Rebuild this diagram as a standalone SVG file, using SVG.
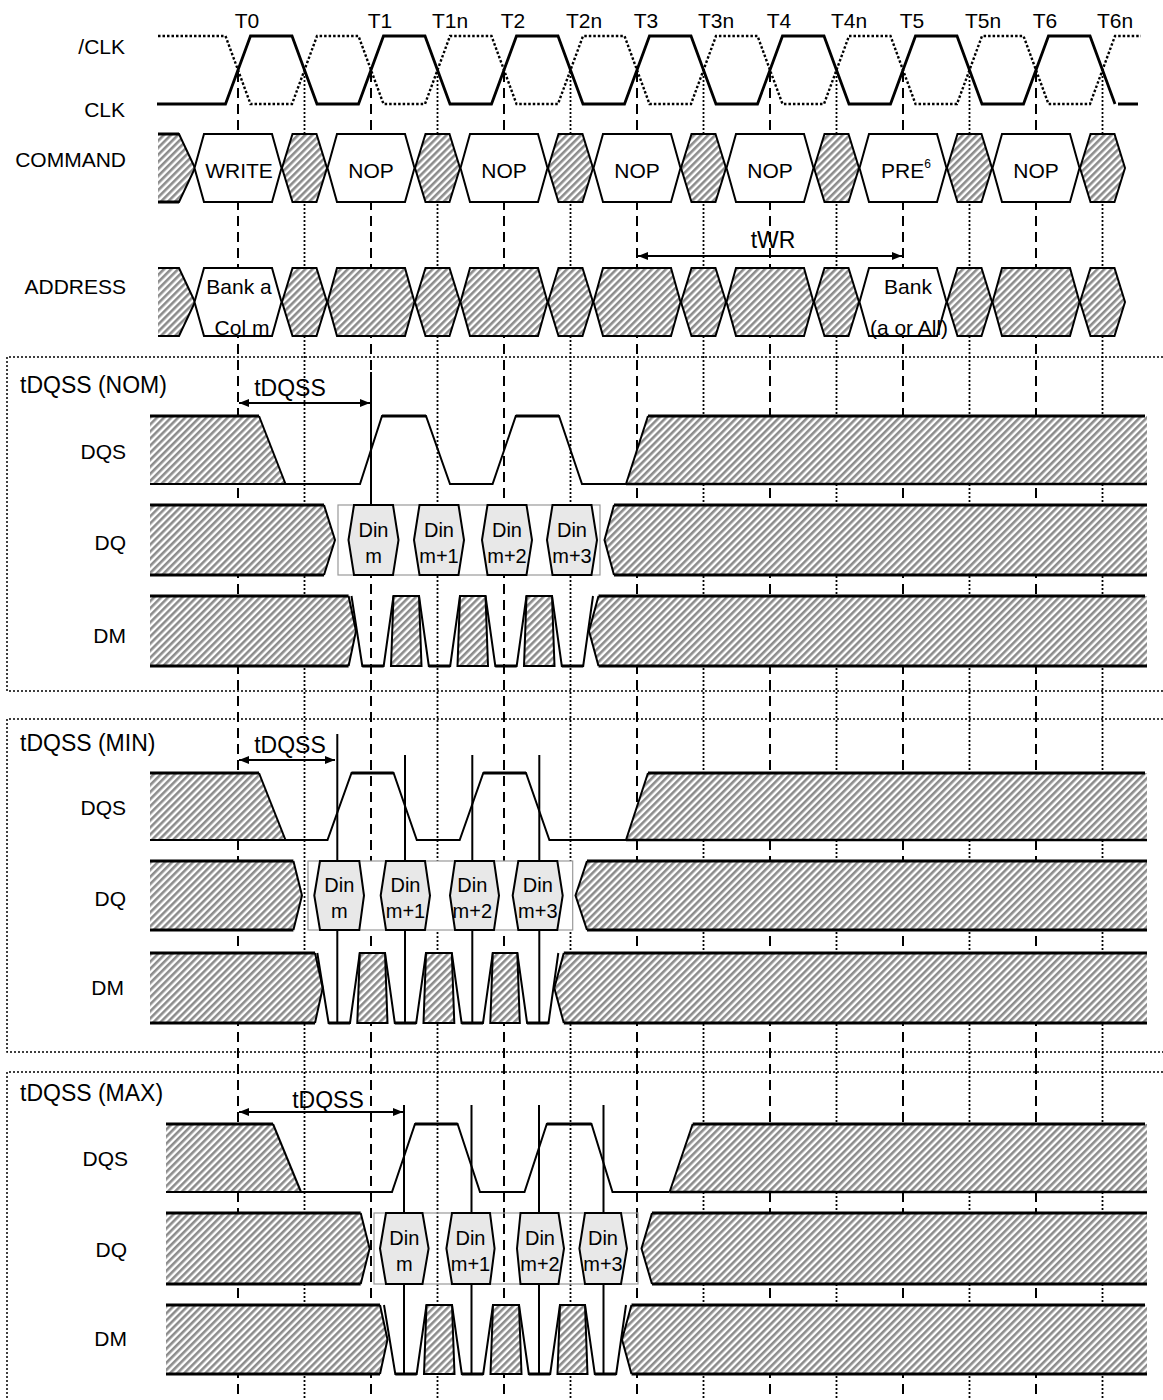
<svg xmlns="http://www.w3.org/2000/svg" width="1163" height="1400" viewBox="0 0 1163 1400">
<defs>
<pattern id="hatch" width="5" height="5" patternUnits="userSpaceOnUse" patternTransform="rotate(45)">
<rect width="5" height="5" fill="#ffffff"/>
<rect width="2.6" height="5" fill="#8c8c8c"/>
</pattern>
<marker id="arr" viewBox="0 0 10 10" refX="10" refY="5" markerWidth="10" markerHeight="10" markerUnits="userSpaceOnUse" orient="auto-start-reverse">
<path d="M0,1 L10,5 L0,9 Z" fill="#000"/>
</marker>
</defs>
<style>
text{font-family:"Liberation Sans",Arial,sans-serif;fill:#000;dominant-baseline:central}
.lbl{font-size:21px;text-anchor:end}
.t{font-size:21px;text-anchor:middle}
.c{font-size:21px;text-anchor:middle}
.din{font-size:20px;text-anchor:middle}
.big{font-size:23px}
.bigm{font-size:23px;text-anchor:middle}
.dash{stroke:#000;stroke-width:2;stroke-dasharray:10,6;fill:none}
.dot{stroke:#000;stroke-width:1.8;stroke-dasharray:2,2;fill:none}
.box{stroke:#000;stroke-width:1.5;stroke-dasharray:2,2;fill:none}
.valid{fill:#fff;stroke:#000;stroke-width:2}
.hx{fill:url(#hatch);stroke:#000;stroke-width:2}
.hf{fill:url(#hatch);stroke:none}
.w{fill:none;stroke:#000;stroke-width:2;stroke-linejoin:miter}
.hb{fill:none;stroke:#000;stroke-width:3}
.din-hex{fill:#e8e8e8;stroke:#000;stroke-width:2}
.wbox{fill:#fff;stroke:#999;stroke-width:1.2}
.wbox2{fill:none;stroke:#999;stroke-width:1.2}
.sl{stroke:#000;stroke-width:2}
.arrow{stroke:#000;stroke-width:2;fill:none;marker-start:url(#arr);marker-end:url(#arr)}
</style>

<g id="connectors">
<g id="guides">
<line class="dash" x1="238" y1="72" x2="238" y2="1400"/>
<line class="dash" x1="371" y1="72" x2="371" y2="1400"/>
<line class="dash" x1="504" y1="72" x2="504" y2="1400"/>
<line class="dash" x1="637" y1="72" x2="637" y2="1400"/>
<line class="dash" x1="770" y1="72" x2="770" y2="1400"/>
<line class="dash" x1="903" y1="72" x2="903" y2="1400"/>
<line class="dash" x1="1036" y1="72" x2="1036" y2="1400"/>
<line class="dot" x1="304.5" y1="72" x2="304.5" y2="1400"/>
<line class="dot" x1="437.5" y1="72" x2="437.5" y2="1400"/>
<line class="dot" x1="570.5" y1="72" x2="570.5" y2="1400"/>
<line class="dot" x1="703.5" y1="72" x2="703.5" y2="1400"/>
<line class="dot" x1="836.5" y1="72" x2="836.5" y2="1400"/>
<line class="dot" x1="969.5" y1="72" x2="969.5" y2="1400"/>
<line class="dot" x1="1102.5" y1="72" x2="1102.5" y2="1400"/>
</g>
</g>

<g id="box-nom"><path class="box" d="M1163,357 L7,357 L7,691 L1163,691"/></g>
<g id="box-min"><path class="box" d="M1163,719 L7,719 L7,1052 L1163,1052"/></g>
<g id="box-max"><path class="box" d="M1163,1072 L7,1072 L7,1400"/></g>

<g id="time-labels">
<text class="t" x="247" y="20">T0</text>
<text class="t" x="380" y="20">T1</text>
<text class="t" x="450" y="20">T1n</text>
<text class="t" x="513" y="20">T2</text>
<text class="t" x="584" y="20">T2n</text>
<text class="t" x="646" y="20">T3</text>
<text class="t" x="716" y="20">T3n</text>
<text class="t" x="779" y="20">T4</text>
<text class="t" x="849" y="20">T4n</text>
<text class="t" x="912" y="20">T5</text>
<text class="t" x="983" y="20">T5n</text>
<text class="t" x="1045" y="20">T6</text>
<text class="t" x="1115" y="20">T6n</text>
</g>

<g id="signal-labels">
<text class="lbl" x="125" y="46">/CLK</text>
<text class="lbl" x="125" y="109">CLK</text>
<text class="lbl" x="126" y="159">COMMAND</text>
<text class="lbl" x="126" y="286">ADDRESS</text>
<text class="lbl" x="126" y="451">DQS</text>
<text class="lbl" x="126" y="542">DQ</text>
<text class="lbl" x="126" y="635">DM</text>
<text class="lbl" x="126" y="807">DQS</text>
<text class="lbl" x="126" y="898">DQ</text>
<text class="lbl" x="124" y="987">DM</text>
<text class="lbl" x="128" y="1158">DQS</text>
<text class="lbl" x="127" y="1249">DQ</text>
<text class="lbl" x="127" y="1338">DM</text>
</g>

<g id="clk">
<path d="M157,104 L225.5,104 L250.5,36 L292,36 L317,104 L358.5,104 L383.5,36 L425,36 L450,104 L491.5,104 L516.5,36 L558,36 L583,104 L624.5,104 L649.5,36 L691,36 L716,104 L757.5,104 L782.5,36 L824,36 L849,104 L890.5,104 L915.5,36 L957,36 L982,104 L1023.5,104 L1048.5,36 L1090,36 L1115,104" fill="none" stroke="#000" stroke-width="2.8"/>
<line x1="1118" y1="104" x2="1138" y2="104" stroke="#000" stroke-width="3"/>
</g>
<g id="clk-n">
<path d="M158,36 L225.5,36 L250.5,104 L292,104 L317,36 L358.5,36 L383.5,104 L425,104 L450,36 L491.5,36 L516.5,104 L558,104 L583,36 L624.5,36 L649.5,104 L691,104 L716,36 L757.5,36 L782.5,104 L824,104 L849,36 L890.5,36 L915.5,104 L957,104 L982,36 L1023.5,36 L1048.5,104 L1090,104 L1115,36 L1141,36" fill="none" stroke="#000" stroke-width="2.4" stroke-dasharray="2.5,2"/>
</g>

<g id="command">
<polygon class="hf" points="158,134 179,134 195,168 179,202 158,202"/>
<polyline class="w" points="158,134 179,134 195,168 179,202 158,202"/>
<line x1="158" y1="134" x2="179" y2="134" stroke="#000" stroke-width="3"/>
<line x1="158" y1="202" x2="179" y2="202" stroke="#000" stroke-width="3"/>
<polygon class="valid" points="194.5,168 204,134 272,134 281.5,168 272,202 204,202"/>
<polygon class="hx" points="282,168 292.5,134 316.5,134 327,168 316.5,202 292.5,202"/>
<polygon class="valid" points="327.5,168 337,134 405,134 414.5,168 405,202 337,202"/>
<polygon class="hx" points="415,168 425.5,134 449.5,134 460,168 449.5,202 425.5,202"/>
<polygon class="valid" points="460.5,168 470,134 538,134 547.5,168 538,202 470,202"/>
<polygon class="hx" points="548,168 558.5,134 582.5,134 593,168 582.5,202 558.5,202"/>
<polygon class="valid" points="593.5,168 603,134 671,134 680.5,168 671,202 603,202"/>
<polygon class="hx" points="681,168 691.5,134 715.5,134 726,168 715.5,202 691.5,202"/>
<polygon class="valid" points="726.5,168 736,134 804,134 813.5,168 804,202 736,202"/>
<polygon class="hx" points="814,168 824.5,134 848.5,134 859,168 848.5,202 824.5,202"/>
<polygon class="valid" points="859.5,168 869,134 937,134 946.5,168 937,202 869,202"/>
<polygon class="hx" points="947,168 957.5,134 981.5,134 992,168 981.5,202 957.5,202"/>
<polygon class="valid" points="992.5,168 1002,134 1070,134 1079.5,168 1070,202 1002,202"/>
<polygon class="hx" points="1080,168 1090.5,134 1114.5,134 1125,168 1114.5,202 1090.5,202"/>
<text class="c" x="239" y="170">WRITE</text>
<text class="c" x="371" y="170">NOP</text>
<text class="c" x="504" y="170">NOP</text>
<text class="c" x="637" y="170">NOP</text>
<text class="c" x="770" y="170">NOP</text>
<text class="c" x="906" y="170">PRE<tspan font-size="12" dy="-6">6</tspan></text>
<text class="c" x="1036" y="170">NOP</text>
</g>

<g id="twr">
<line class="arrow" x1="638" y1="256" x2="902" y2="256"/>
<text class="bigm" x="773" y="240">tWR</text>
</g>

<g id="address">
<polygon class="hf" points="158,268 179,268 195,302 179,336 158,336"/>
<polyline class="w" points="158,268 179,268 195,302 179,336 158,336"/>
<polygon class="valid" points="194.5,302 204,268 272,268 281.5,302 272,336 204,336"/>
<polygon class="hx" points="282,302 292.5,268 316.5,268 327,302 316.5,336 292.5,336"/>
<polygon class="hx" points="327.5,302 337,268 405,268 414.5,302 405,336 337,336"/>
<polygon class="hx" points="415,302 425.5,268 449.5,268 460,302 449.5,336 425.5,336"/>
<polygon class="hx" points="460.5,302 470,268 538,268 547.5,302 538,336 470,336"/>
<polygon class="hx" points="548,302 558.5,268 582.5,268 593,302 582.5,336 558.5,336"/>
<polygon class="hx" points="593.5,302 603,268 671,268 680.5,302 671,336 603,336"/>
<polygon class="hx" points="681,302 691.5,268 715.5,268 726,302 715.5,336 691.5,336"/>
<polygon class="hx" points="726.5,302 736,268 804,268 813.5,302 804,336 736,336"/>
<polygon class="hx" points="814,302 824.5,268 848.5,268 859,302 848.5,336 824.5,336"/>
<polygon class="valid" points="859.5,302 869,268 937,268 946.5,302 937,336 869,336"/>
<polygon class="hx" points="947,302 957.5,268 981.5,268 992,302 981.5,336 957.5,336"/>
<polygon class="hx" points="992.5,302 1002,268 1070,268 1079.5,302 1070,336 1002,336"/>
<polygon class="hx" points="1080,302 1090.5,268 1114.5,268 1125,302 1114.5,336 1090.5,336"/>
<text class="c" x="239" y="286">Bank a</text>
<text class="c" x="242" y="327">Col m</text>
<text class="c" x="908" y="286">Bank</text>
<text class="c" x="909" y="327">(a or All)</text>
</g>

<!-- NOM -->
<g id="nom-title">
<text class="big" x="20" y="385">tDQSS (NOM)</text>
<text class="bigm" x="290" y="388">tDQSS</text>
<line class="arrow" x1="239" y1="403" x2="370" y2="403"/>
<line class="sl" x1="371" y1="372" x2="371" y2="505"/>
</g>
<g id="nom-dqs">
<polygon class="hf" points="150,416 259,416 285.5,484 150,484"/>
<line x1="150" y1="416" x2="259" y2="416" stroke="#000" stroke-width="3"/>
<path class="w" d="M259,416 L285.5,484"/>
<path class="w" d="M150,484 L360,484 L382,416 L426,416 L450,484 L492.6,484 L515.8,416 L559,416 L582,484 L626,484"/>
<path class="hb" d="M382,416 L426,416 M515.8,416 L559,416"/>
<polygon class="hf" points="626,484 648,416 1147,416 1147,484"/>
<path class="w" d="M626,484 L648,416"/>
<line x1="648" y1="416" x2="1145" y2="416" stroke="#000" stroke-width="3"/>
<line x1="626" y1="484" x2="1147" y2="484" stroke="#000" stroke-width="2.5"/>
</g>
<g id="nom-dq">
<polygon class="hf" points="150,505 324,505 335,540 324,575 150,575"/>
<path class="w" d="M324,505 L335,540 L324,575"/>
<line x1="150" y1="505" x2="324" y2="505" stroke="#000" stroke-width="3"/>
<line x1="150" y1="575" x2="324" y2="575" stroke="#000" stroke-width="3"/>
<rect class="wbox" x="338" y="505" width="262" height="70"/>
<polygon class="din-hex" points="348.5,540 354,505 393,505 398.5,540 393,575 354,575"/>
<polygon class="din-hex" points="414,540 419.5,505 458.5,505 464,540 458.5,575 419.5,575"/>
<polygon class="din-hex" points="482,540 487.5,505 526.5,505 532,540 526.5,575 487.5,575"/>
<polygon class="din-hex" points="547,540 552.5,505 591.5,505 597,540 591.5,575 552.5,575"/>
<text class="din" x="373.5" y="530">Din</text><text class="din" x="373.5" y="556">m</text>
<text class="din" x="439" y="530">Din</text><text class="din" x="439" y="556">m+1</text>
<text class="din" x="507" y="530">Din</text><text class="din" x="507" y="556">m+2</text>
<text class="din" x="572" y="530">Din</text><text class="din" x="572" y="556">m+3</text>
<polygon class="hf" points="604.5,540 614,505 1147,505 1147,575 614,575"/>
<path class="w" d="M614,505 L604.5,540 L614,575"/>
<line x1="614" y1="505" x2="1147" y2="505" stroke="#000" stroke-width="3"/>
<line x1="614" y1="575" x2="1147" y2="575" stroke="#000" stroke-width="3"/>
</g>
<g id="nom-dm">
<polygon class="hf" points="150,596 348.6,596 356,631 348.6,666 150,666"/>
<path class="w" d="M348.6,596 L356,631 L348.6,666"/>
<line x1="150" y1="596" x2="348.6" y2="596" stroke="#000" stroke-width="3"/>
<line x1="150" y1="666" x2="348.6" y2="666" stroke="#000" stroke-width="3"/>
<path class="w" d="M351.5,596 L362.3,666 L383.7,666 L393.5,596"/>
<path class="w" d="M419,596 L428.8,666 L450.2,666 L460,596"/>
<path class="w" d="M485.5,596 L495.3,666 L516.7,666 L526.5,596"/>
<path class="w" d="M552,596 L561.8,666 L583.2,666 L593,596"/>
<path class="hb" d="M362.3,666 L383.7,666 M428.8,666 L450.2,666 M495.3,666 L516.7,666 M561.8,666 L583.2,666"/>
<polygon class="hx" points="393.5,596 419,596 421.5,666 391,666"/>
<polygon class="hx" points="460,596 485.5,596 488,666 457.5,666"/>
<polygon class="hx" points="526.5,596 552,596 554.5,666 524,666"/>
<polygon class="hf" points="589,631 598.5,596 1147,596 1147,666 598.5,666"/>
<path class="w" d="M598.5,596 L589,631 L598.5,666"/>
<line x1="598.5" y1="596" x2="1145" y2="596" stroke="#000" stroke-width="3"/>
<line x1="598.5" y1="666" x2="1147" y2="666" stroke="#000" stroke-width="3"/>
</g>

<!-- MIN -->
<g id="min-title">
<text class="big" x="20" y="743">tDQSS (MIN)</text>
<text class="bigm" x="290" y="745">tDQSS</text>
<line class="arrow" x1="239" y1="760" x2="335" y2="760"/>
<line class="sl" x1="337.3" y1="734" x2="337.3" y2="1023"/>
<line class="sl" x1="405" y1="755" x2="405" y2="1023"/>
<line class="sl" x1="472.3" y1="755" x2="472.3" y2="1023"/>
<line class="sl" x1="539.3" y1="755" x2="539.3" y2="1023"/>
</g>
<g id="min-dqs">
<polygon class="hf" points="150,773 259,773 285.5,840 150,840"/>
<line x1="150" y1="773" x2="259" y2="773" stroke="#000" stroke-width="3"/>
<path class="w" d="M259,773 L285.5,840"/>
<path class="w" d="M150,840 L327.5,840 L351.5,773 L393.6,773 L416.8,840 L459.7,840 L483.3,773 L526,773 L549.4,840 L626,840"/>
<path class="hb" d="M351.5,773 L393.6,773 M483.3,773 L526,773"/>
<polygon class="hf" points="626,840 648,773 1147,773 1147,840"/>
<path class="w" d="M626,840 L648,773"/>
<line x1="648" y1="773" x2="1145" y2="773" stroke="#000" stroke-width="3"/>
<line x1="626" y1="840" x2="1147" y2="840" stroke="#000" stroke-width="2.5"/>
</g>
<g id="min-dq">
<polygon class="hf" points="150,861 293.4,861 302,895.5 293.4,930 150,930"/>
<path class="w" d="M293.4,861 L302,895.5 L293.4,930"/>
<line x1="150" y1="861" x2="293.4" y2="861" stroke="#000" stroke-width="3"/>
<line x1="150" y1="930" x2="293.4" y2="930" stroke="#000" stroke-width="3"/>
<rect class="wbox" x="308" y="861" width="264.7" height="69"/>
<line class="sl" x1="337.3" y1="861" x2="337.3" y2="930"/>
<line class="sl" x1="405" y1="861" x2="405" y2="930"/>
<line class="sl" x1="472.3" y1="861" x2="472.3" y2="930"/>
<line class="sl" x1="539.3" y1="861" x2="539.3" y2="930"/>
<polygon class="din-hex" points="314.3,895.5 320,861 359.3,861 364,895.5 359.3,930 320,930"/>
<polygon class="din-hex" points="380.7,895.5 386,861 425,861 430,895.5 425,930 386,930"/>
<polygon class="din-hex" points="450,895.5 455,861 494,861 499,895.5 494,930 455,930"/>
<polygon class="din-hex" points="512.7,895.5 518.3,861 557.3,861 562.7,895.5 557.3,930 518.3,930"/>
<text class="din" x="339.3" y="885">Din</text><text class="din" x="339.3" y="911">m</text>
<text class="din" x="405.5" y="885">Din</text><text class="din" x="405.5" y="911">m+1</text>
<text class="din" x="472.3" y="885">Din</text><text class="din" x="472.3" y="911">m+2</text>
<text class="din" x="537.8" y="885">Din</text><text class="din" x="537.8" y="911">m+3</text>
<polygon class="hf" points="575.5,895.5 587,861 1147,861 1147,930 587,930"/>
<path class="w" d="M587,861 L575.5,895.5 L587,930"/>
<line x1="587" y1="861" x2="1147" y2="861" stroke="#000" stroke-width="3"/>
<line x1="587" y1="930" x2="1147" y2="930" stroke="#000" stroke-width="3"/>
</g>
<g id="min-dm">
<polygon class="hf" points="150,953 315,953 322.7,988 315,1023 150,1023"/>
<path class="w" d="M315,953 L322.7,988 L315,1023"/>
<line x1="150" y1="953" x2="315" y2="953" stroke="#000" stroke-width="3"/>
<line x1="150" y1="1023" x2="315" y2="1023" stroke="#000" stroke-width="3"/>
<path class="w" d="M317.3,953 L328.6,1023 L350,1023 L359.8,953"/>
<path class="w" d="M385,953 L394.8,1023 L416.2,1023 L426,953"/>
<path class="w" d="M451.8,953 L461.6,1023 L483,1023 L492.8,953"/>
<path class="w" d="M517.3,953 L527.1,1023 L548.5,1023 L558.3,953"/>
<path class="hb" d="M328.6,1023 L350,1023 M394.8,1023 L416.2,1023 M461.6,1023 L483,1023 M527.1,1023 L548.5,1023"/>
<polygon class="hx" points="359.8,953 385,953 387.5,1023 357.3,1023"/>
<polygon class="hx" points="426,953 451.8,953 454.3,1023 423.5,1023"/>
<polygon class="hx" points="492.8,953 517.3,953 519.8,1023 490.3,1023"/>
<polygon class="hf" points="554.3,988 563.8,953 1147,953 1147,1023 563.8,1023"/>
<path class="w" d="M563.8,953 L554.3,988 L563.8,1023"/>
<line x1="563.8" y1="953" x2="1147" y2="953" stroke="#000" stroke-width="3"/>
<line x1="563.8" y1="1023" x2="1147" y2="1023" stroke="#000" stroke-width="3"/>
</g>

<!-- MAX -->
<g id="max-title">
<text class="big" x="20" y="1093">tDQSS (MAX)</text>
<text class="bigm" x="328" y="1100">tDQSS</text>
<line class="arrow" x1="239" y1="1112" x2="403" y2="1112"/>
<line class="sl" x1="404" y1="1105" x2="404" y2="1374"/>
<line class="sl" x1="471.5" y1="1105" x2="471.5" y2="1374"/>
<line class="sl" x1="539" y1="1105" x2="539" y2="1374"/>
<line class="sl" x1="603.5" y1="1105" x2="603.5" y2="1374"/>
</g>
<g id="max-dqs">
<polygon class="hf" points="166,1124 273,1124 301,1192 166,1192"/>
<line x1="166" y1="1124" x2="273" y2="1124" stroke="#000" stroke-width="3"/>
<path class="w" d="M273,1124 L301,1192"/>
<path class="w" d="M166,1192 L392,1192 L415,1124 L457.6,1124 L480,1192 L524.5,1192 L546.8,1124 L591.5,1124 L612.5,1192 L669.6,1192"/>
<path class="hb" d="M415,1124 L457.6,1124 M546.8,1124 L591.5,1124"/>
<polygon class="hf" points="669.6,1192 692.7,1124 1147,1124 1147,1192"/>
<path class="w" d="M669.6,1192 L692.7,1124"/>
<line x1="692.7" y1="1124" x2="1145" y2="1124" stroke="#000" stroke-width="3"/>
<line x1="669.6" y1="1192" x2="1147" y2="1192" stroke="#000" stroke-width="2.5"/>
</g>
<g id="max-dq">
<polygon class="hf" points="166,1213 360.7,1213 369.6,1248.5 360.7,1284 166,1284"/>
<path class="w" d="M360.7,1213 L369.6,1248.5 L360.7,1284"/>
<line x1="166" y1="1213" x2="360.7" y2="1213" stroke="#000" stroke-width="3"/>
<line x1="166" y1="1284" x2="360.7" y2="1284" stroke="#000" stroke-width="3"/>
<rect class="wbox2" x="374" y="1213" width="264" height="71"/>
<polygon class="din-hex" points="380,1248.5 386,1213 422.5,1213 428.6,1248.5 422.5,1284 386,1284"/>
<polygon class="din-hex" points="446.4,1248.5 452,1213 490,1213 494.6,1248.5 490,1284 452,1284"/>
<polygon class="din-hex" points="517,1248.5 520.5,1213 558.5,1213 564,1248.5 558.5,1284 520.5,1284"/>
<polygon class="din-hex" points="579.4,1248.5 585,1213 621,1213 627,1248.5 621,1284 585,1284"/>
<text class="din" x="404.3" y="1238">Din</text><text class="din" x="404.3" y="1264">m</text>
<text class="din" x="470.5" y="1238">Din</text><text class="din" x="470.5" y="1264">m+1</text>
<text class="din" x="540" y="1238">Din</text><text class="din" x="540" y="1264">m+2</text>
<text class="din" x="603" y="1238">Din</text><text class="din" x="603" y="1264">m+3</text>
<polygon class="hf" points="641.5,1248.5 652,1213 1147,1213 1147,1284 652,1284"/>
<path class="w" d="M652,1213 L641.5,1248.5 L652,1284"/>
<line x1="652" y1="1213" x2="1147" y2="1213" stroke="#000" stroke-width="3"/>
<line x1="652" y1="1284" x2="1147" y2="1284" stroke="#000" stroke-width="3"/>
</g>
<g id="max-dm">
<polygon class="hf" points="166,1305 380,1305 387.5,1339.5 380,1374 166,1374"/>
<path class="w" d="M380,1305 L387.5,1339.5 L380,1374"/>
<line x1="166" y1="1305" x2="380" y2="1305" stroke="#000" stroke-width="3"/>
<line x1="166" y1="1374" x2="380" y2="1374" stroke="#000" stroke-width="3"/>
<path class="w" d="M384,1305 L395.3,1374 L416.7,1374 L426.5,1305"/>
<path class="w" d="M452,1305 L461.8,1374 L483.2,1374 L493,1305"/>
<path class="w" d="M519,1305 L528.8,1374 L550.2,1374 L560,1305"/>
<path class="w" d="M585,1305 L594.8,1374 L616.2,1374 L626,1305"/>
<path class="hb" d="M395.3,1374 L416.7,1374 M461.8,1374 L483.2,1374 M528.8,1374 L550.2,1374 M594.8,1374 L616.2,1374"/>
<polygon class="hx" points="426.5,1305 452,1305 454.5,1374 424,1374"/>
<polygon class="hx" points="493,1305 519,1305 521.5,1374 490.5,1374"/>
<polygon class="hx" points="560,1305 585,1305 587.5,1374 557.5,1374"/>
<polygon class="hf" points="622,1339.5 631.5,1305 1147,1305 1147,1374 631.5,1374"/>
<path class="w" d="M631.5,1305 L622,1339.5 L631.5,1374"/>
<line x1="631.5" y1="1305" x2="1145" y2="1305" stroke="#000" stroke-width="3"/>
<line x1="631.5" y1="1374" x2="1147" y2="1374" stroke="#000" stroke-width="3"/>
</g>
</svg>
